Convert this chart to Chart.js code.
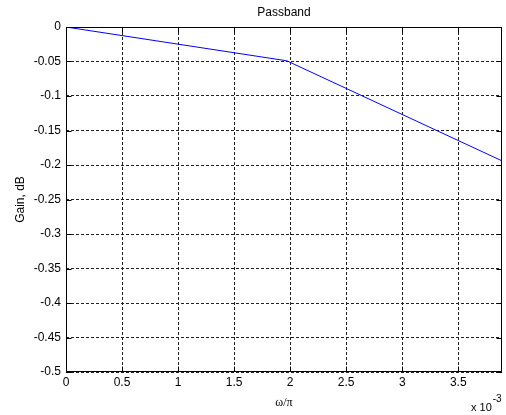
<!DOCTYPE html>
<html>
<head>
<meta charset="utf-8">
<script src="https://cdn.jsdelivr.net/npm/chart.js@4/dist/chart.umd.min.js"></script>
<style>
html,body{margin:0;padding:0;background:#fff;}
#wrap{width:506px;height:415px;position:relative;}
</style>
</head>
<body>
<div id="wrap"><canvas id="c" width="506" height="415"></canvas></div>
<script>
// Data (frequency in units of 10^-3 of ω/π)
const freq = [0, 1.97, 3.89];
const gainDb = [0, -0.049, -0.194];
const xTicks = [0, 0.5, 1, 1.5, 2, 2.5, 3, 3.5];
const yTicks = [0, -0.05, -0.1, -0.15, -0.2, -0.25, -0.3, -0.35, -0.4, -0.45, -0.5];
const titleText = 'Passband';
const xTitle = 'ω/π';
const yTitle = 'Gain, dB';
const xExponent = '-3';

const FONT = "'Liberation Sans', Arial, sans-serif";

const frame = {
  id: 'frame',
  afterDraw(chart) {
    const {ctx, chartArea: a, scales} = chart;
    const L = Math.round(a.left) + 0.5, R = Math.round(a.right) - 0.5;
    const T = Math.round(a.top) + 0.5, B = Math.round(a.bottom) - 0.5;
    ctx.save();
    ctx.setLineDash([]);
    ctx.strokeStyle = '#000';
    ctx.lineWidth = 1;
    ctx.strokeRect(L, T, R - L, B - T);
    ctx.beginPath();
    const tl = 5;
    xTicks.forEach(v => {
      const x = Math.round(scales.x.getPixelForValue(v)) + 0.5;
      ctx.moveTo(x, B); ctx.lineTo(x, B - tl);
      ctx.moveTo(x, T); ctx.lineTo(x, T + tl);
    });
    yTicks.forEach(v => {
      const y = Math.round(scales.y.getPixelForValue(v)) + 0.5;
      ctx.moveTo(L, y); ctx.lineTo(L + tl, y);
      ctx.moveTo(R, y); ctx.lineTo(R - tl, y);
    });
    ctx.stroke();
    ctx.fillStyle = '#000';
    ctx.font = '12px ' + FONT;
    ctx.textAlign = 'center';
    ctx.textBaseline = 'middle';
    ctx.fillText(titleText, (a.left + a.right) / 2, 13);
    ctx.textAlign = 'left';
    ctx.font = '11px ' + FONT;
    const base = 'x 10';
    const bx = 471;
    ctx.fillText(base, bx, 408);
    const w = ctx.measureText(base).width;
    ctx.font = '10px ' + FONT;
    ctx.fillText(xExponent, bx + w + 1, 399);
    ctx.restore();
  }
};

const fmt = v => {
  const r = Math.round(v * 1000) / 1000;
  return r === 0 ? '0' : String(r);
};

new Chart(document.getElementById('c'), {
  type: 'line',
  data: {
    datasets: [{
      data: freq.map((x, i) => ({x, y: gainDb[i]})),
      borderColor: 'rgb(0,0,255)',
      borderWidth: 1,
      pointRadius: 0,
      tension: 0,
      fill: false
    }]
  },
  options: {
    responsive: false,
    animation: false,
    layout: {padding: {left: 0, right: 4, top: 27, bottom: 0}},
    plugins: {legend: {display: false}, title: {display: false}, tooltip: {enabled: false}},
    scales: {
      x: {
        type: 'linear',
        min: 0,
        max: 3.89,
        afterBuildTicks: s => { s.ticks = xTicks.map(v => ({value: v})); },
        afterFit: s => { s.height = 43; },
        grid: {color: '#222', lineWidth: 1, drawTicks: false},
        border: {display: false, dash: [3, 2]},
        ticks: {color: '#000', font: {family: FONT, size: 12}, padding: 3, callback: v => fmt(v), maxRotation: 0, autoSkip: false},
        title: {display: true, text: xTitle, color: '#000', font: {family: "'Liberation Serif', serif", size: 12}, padding: {top: 0, bottom: 5}}
      },
      y: {
        type: 'linear',
        min: -0.5,
        max: 0,
        afterBuildTicks: s => { s.ticks = yTicks.map(v => ({value: v})); },
        afterFit: s => { s.width = 66; },
        grid: {color: '#222', lineWidth: 1, drawTicks: false},
        border: {display: false, dash: [3, 2]},
        ticks: {color: '#000', font: {family: FONT, size: 12}, padding: 5, callback: v => fmt(v), autoSkip: false},
        title: {display: true, text: yTitle, color: '#000', font: {family: FONT, size: 12}, padding: {top: 13, bottom: 0}}
      }
    }
  },
  plugins: [frame]
});
</script>
</body>
</html>
